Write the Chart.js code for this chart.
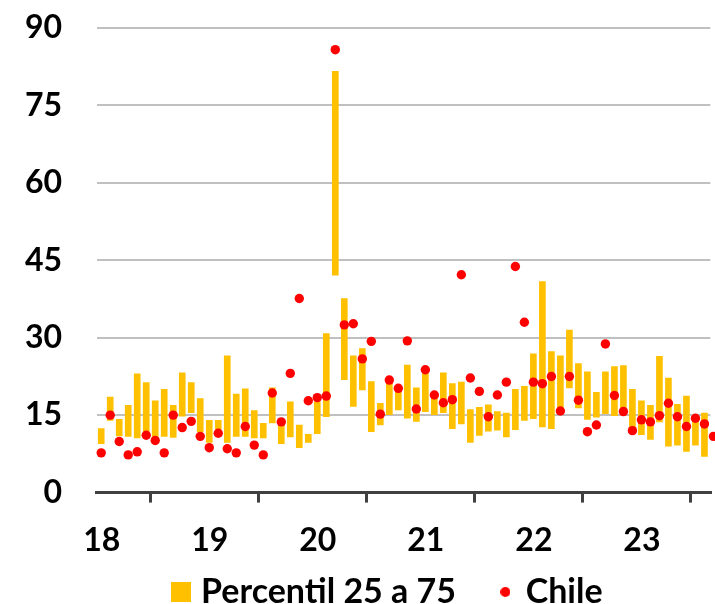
<!DOCTYPE html>
<html>
<head>
<meta charset="utf-8">
<title>Percentil 25 a 75 - Chile</title>
<script src="https://cdn.jsdelivr.net/npm/chart.js@4.4.1/dist/chart.umd.min.js"></script>
<style>
  html, body { margin: 0; padding: 0; background: #fff; overflow: hidden; }
  #chart { display: block; }
</style>
</head>
<body>
<canvas id="chart" width="715" height="604"></canvas>
<script>
// Monthly data, index 0 = Jan 2018 ... index 68 = Sep 2023
const yearLabels = ['18', '19', '20', '21', '22', '23'];

const p25 = [
  9.5, 14.0, 11.0, 10.9, 10.6, 11.3, 10.6, 10.9, 10.7, 14.8, 15.5, 11.8,
  9.7, 12.3, 9.7, 10.9, 10.9, 10.6, 10.6, 13.5, 9.5, 10.8, 8.7, 9.7,
  11.4, 14.7, 42.1, 21.9, 16.7, 19.9, 11.8, 13.1, 15.1, 16.0, 14.4, 13.8,
  15.7, 15.1, 15.5, 12.4, 13.3, 9.7, 11.1, 11.9, 12.1, 10.8, 12.2, 14.0,
  14.3, 12.7, 12.4, 15.5, 20.3, 16.4, 14.2, 14.6, 15.3, 14.9, 15.1, 12.6,
  11.2, 10.3, 13.7, 9.0, 9.2, 8.0, 9.2, 7.0, null
];

const p75 = [
  12.4, 18.5, 14.2, 16.9, 23.0, 21.3, 17.8, 20.0, 16.9, 23.2, 21.3, 18.2,
  14.0, 14.0, 26.5, 19.1, 20.1, 15.9, 13.4, 20.3, 14.0, 17.6, 13.1, 11.3,
  17.6, 30.8, 81.6, 37.6, 26.5, 27.9, 21.5, 17.3, 21.3, 20.5, 24.7, 20.3,
  23.8, 18.9, 23.2, 21.1, 21.4, 16.1, 16.5, 17.0, 15.7, 15.4, 20.0, 20.6,
  26.9, 40.9, 27.3, 26.5, 31.5, 25.0, 23.4, 19.4, 23.4, 24.4, 24.6, 20.0,
  17.8, 16.9, 26.4, 22.2, 17.1, 18.7, 14.8, 15.4, null
];

const chile = [
  7.7, 15.0, 9.9, 7.3, 7.9, 11.1, 10.1, 7.7, 15.0, 12.6, 13.8, 10.9,
  8.7, 11.5, 8.5, 7.7, 12.8, 9.2, 7.3, 19.3, 13.7, 23.1, 37.6, 17.8,
  18.4, 18.7, 85.8, 32.5, 32.7, 25.9, 29.3, 15.2, 21.8, 20.2, 29.4, 16.2,
  23.8, 18.9, 17.4, 18.0, 42.2, 22.2, 19.6, 14.7, 18.9, 21.4, 43.8, 33.0,
  21.4, 21.1, 22.5, 15.8, 22.5, 17.9, 11.8, 13.1, 28.8, 18.8, 15.7, 12.0,
  14.1, 13.7, 14.9, 17.3, 14.7, 12.8, 14.4, 13.3, 10.9
];

const barColor = '#FFC000';
const dotColor = '#FF0000';
const axisColor = '#404040';

// legend symbols: yellow square and small red dot
function legendSquare() {
    const c = document.createElement('canvas');
    c.width = 20; c.height = 20;
    const g = c.getContext('2d');
    g.fillStyle = barColor;
    g.fillRect(0, 0, 20, 20);
    return c;
}

function legendDot() {
    const c = document.createElement('canvas');
    c.width = 10; c.height = 10;
    const g = c.getContext('2d');
    g.fillStyle = dotColor;
    g.beginPath();
    g.arc(5, 5, 5, 0, Math.PI * 2);
    g.fill();
    return c;
}

// the original chart was wider than this crop, so its legend sits right of centre
const legendShift = {
    id: 'legendShift',
    afterLayout(chart) {
        chart.legend.left = 65;
        chart.legend.top = 529;
    }
};

const barData = p25.map((lo, i) => ({ x: i, y: lo === null ? null : [lo, p75[i]] }));
const dotData = chile.map((v, i) => ({ x: i, y: v }));

Chart.defaults.font.family = 'Lato';
Chart.defaults.font.weight = 'bold';
Chart.defaults.font.size = 32;
Chart.defaults.color = '#000';

const ctx = document.getElementById('chart').getContext('2d');
new Chart(ctx, {
    type: 'bar',
    data: {
        datasets: [{
            label: 'Percentil 25 a 75',
            data: barData,
            backgroundColor: barColor,
            borderWidth: 0,
            barThickness: 6,
            order: 2
        }, {
            type: 'scatter',
            label: 'Chile',
            data: dotData,
            backgroundColor: dotColor,
            borderWidth: 0,
            pointRadius: 4.7,
            clip: false,
            order: 1
        }]
    },
    options: {
        responsive: false,
        animation: false,
        events: [],
        layout: {
            padding: { top: 28, left: 0, right: 0, bottom: 0 }
        },
        plugins: {
            tooltip: { enabled: false },
            legend: {
                position: 'bottom',
                maxHeight: 44,
                labels: {
                    usePointStyle: true,
                    pointStyleWidth: 6.6,
                    padding: 46,
                    font: { size: 34, weight: 'bold' },
                    generateLabels: function (chart) {
                        return [
                            { text: 'Percentil 25 a 75', pointStyle: legendSquare(), fillStyle: barColor, lineWidth: 0, hidden: false, datasetIndex: 0 },
                            { text: 'Chile', pointStyle: legendDot(), fillStyle: dotColor, lineWidth: 0, hidden: false, datasetIndex: 1 }
                        ];
                    }
                }
            }
        },
        scales: {
            x: {
                type: 'linear',
                offset: false,
                min: -0.5,
                max: 67.65,
                afterBuildTicks: function (scale) {
                    scale.ticks = yearLabels.map((y, k) => ({ value: k * 12 - 0.5 }));
                },
                afterFit: function (scale) {
                    scale.height = 67.4;
                },
                ticks: {
                    callback: (v, i) => yearLabels[i],
                    autoSkip: false,
                    maxRotation: 0,
                    labelOffset: 5,
                    padding: 19,
                    color: '#000'
                },
                grid: {
                    drawOnChartArea: false,
                    color: axisColor,
                    lineWidth: 3,
                    tickLength: 10
                },
                border: { color: axisColor, width: 3 }
            },
            y: {
                min: 0,
                max: 90,
                afterFit: function (scale) {
                    scale.width = 96.7;
                },
                ticks: {
                    stepSize: 15,
                    padding: 0,
                    color: '#000'
                },
                grid: {
                    // invisible tick marks keep the labels away from the plot
                    tickLength: 34.7,
                    tickColor: 'rgba(0,0,0,0)',
                    lineWidth: 2,
                    color: c => c.tick && c.tick.value === 0 ? 'rgba(0,0,0,0)' : '#C0C0C0'
                },
                border: { display: false }
            }
        }
    },
    plugins: [legendShift]
});
</script>
</body>
</html>
